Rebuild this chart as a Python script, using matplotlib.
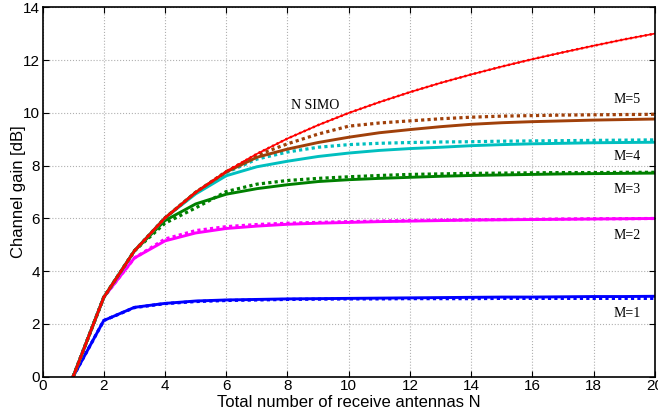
#!/usr/bin/env python3

import matplotlib
matplotlib.use('Agg')
import matplotlib.pyplot as plt

# number of receive antennas
n_ant = list(range(1, 21))

# N SIMO reference curve
simo = [0, 3.01, 4.77, 6.02, 6.99, 7.78, 8.45, 9.03, 9.54, 10.0,
        10.41, 10.79, 11.14, 11.46, 11.76, 12.04, 12.30, 12.55, 12.79, 13.01]

# solid = simulation, dotted = approximation
m1_sim = [0, 2.13, 2.63, 2.78, 2.87, 2.91, 2.93, 2.95, 2.96, 2.97,
          2.98, 2.99, 3.00, 3.01, 3.02, 3.02, 3.03, 3.04, 3.04, 3.05]
m1_apx = [0, 2.13, 2.62, 2.77, 2.85, 2.89, 2.91, 2.93, 2.94, 2.95,
          2.95, 2.96, 2.96, 2.96, 2.97, 2.97, 2.97, 2.97, 2.97, 2.97]
m2_sim = [0, 3.01, 4.50, 5.15, 5.45, 5.62, 5.71, 5.78, 5.82, 5.85,
          5.88, 5.90, 5.92, 5.94, 5.95, 5.96, 5.97, 5.98, 5.99, 6.00]
m2_apx = [0, 3.01, 4.50, 5.22, 5.54, 5.69, 5.77, 5.82, 5.85, 5.88,
          5.90, 5.92, 5.94, 5.95, 5.96, 5.97, 5.98, 5.99, 5.99, 6.00]
m3_sim = [0, 3.01, 4.77, 5.92, 6.55, 6.92, 7.13, 7.28, 7.40, 7.47,
          7.52, 7.56, 7.60, 7.63, 7.65, 7.67, 7.69, 7.70, 7.71, 7.72]
m3_apx = [0, 3.01, 4.77, 5.82, 6.40, 7.02, 7.30, 7.44, 7.52, 7.58,
          7.63, 7.67, 7.69, 7.71, 7.72, 7.73, 7.74, 7.74, 7.75, 7.75]
m4_sim = [0, 3.01, 4.77, 6.02, 6.93, 7.62, 7.96, 8.17, 8.35, 8.48,
          8.58, 8.65, 8.70, 8.76, 8.80, 8.83, 8.85, 8.87, 8.88, 8.89]
m4_apx = [0, 3.01, 4.77, 6.02, 6.99, 7.74, 8.25, 8.52, 8.70, 8.80,
          8.85, 8.88, 8.90, 8.91, 8.93, 8.94, 8.95, 8.96, 8.97, 8.98]
m5_sim = [0, 3.01, 4.77, 6.02, 6.99, 7.76, 8.32, 8.63, 8.88, 9.08,
          9.25, 9.37, 9.48, 9.57, 9.63, 9.67, 9.70, 9.73, 9.75, 9.77]
m5_apx = [0, 3.01, 4.77, 6.02, 6.99, 7.78, 8.40, 8.83, 9.20, 9.50,
          9.62, 9.70, 9.78, 9.84, 9.88, 9.90, 9.92, 9.93, 9.94, 9.95]

curve_labels = ['M=1', 'M=2', 'M=3', 'M=4', 'M=5']
label_y = [2.38, 5.37, 7.08, 8.34, 10.52]

fig = plt.figure(figsize=(6.58, 4.17), dpi=100)
ax = fig.add_axes([0.0646, 0.0966, 0.9308, 0.8855])

colors = ['#0000ff', '#ff00ff', '#008000', '#00bfbf', '#a0400a']
sims = [m1_sim, m2_sim, m3_sim, m4_sim, m5_sim]
apxs = [m1_apx, m2_apx, m3_apx, m4_apx, m5_apx]
dots = (0, (1.0, 1.0))
for c, s, a in zip(colors, sims, apxs):
    ax.plot(n_ant, s, color=c, lw=2.1)
    ax.plot(n_ant, a, color=c, lw=2.3, linestyle=dots)

ax.plot(n_ant, simo, color='#ff0000', lw=1.2)
ax.plot(n_ant, simo, color='#ff0000', lw=1.8, linestyle=(0, (0.8, 1.2)))

for t, y in zip(curve_labels, label_y):
    ax.text(19.1, y, t, family='Liberation Serif', fontsize=10, ha='center', va='center')
ax.text(8.9, 10.3, 'N SIMO', family='Liberation Serif', fontsize=10, ha='center', va='center')

ax.set_xlim(0, 20)
ax.set_ylim(0, 14)
ax.set_xticks(range(0, 21, 2))
ax.set_yticks(range(0, 15, 2))
ax.grid(True, linestyle=':', color='#b0b0b0', lw=0.8)
ax.tick_params(direction='in', top=True, right=True, length=4, labelsize=11, pad=2)
for lab in ax.get_xticklabels() + ax.get_yticklabels():
    lab.set_family('Liberation Sans')
for sp in ax.spines.values():
    sp.set_linewidth(1.2)
ax.set_xlabel('Total number of receive antennas N', family='Liberation Sans', fontsize=12, labelpad=1)
ax.set_ylabel('Channel gain [dB]', family='Liberation Sans', fontsize=12, labelpad=-2)

plt.savefig('out.png', dpi=100)
